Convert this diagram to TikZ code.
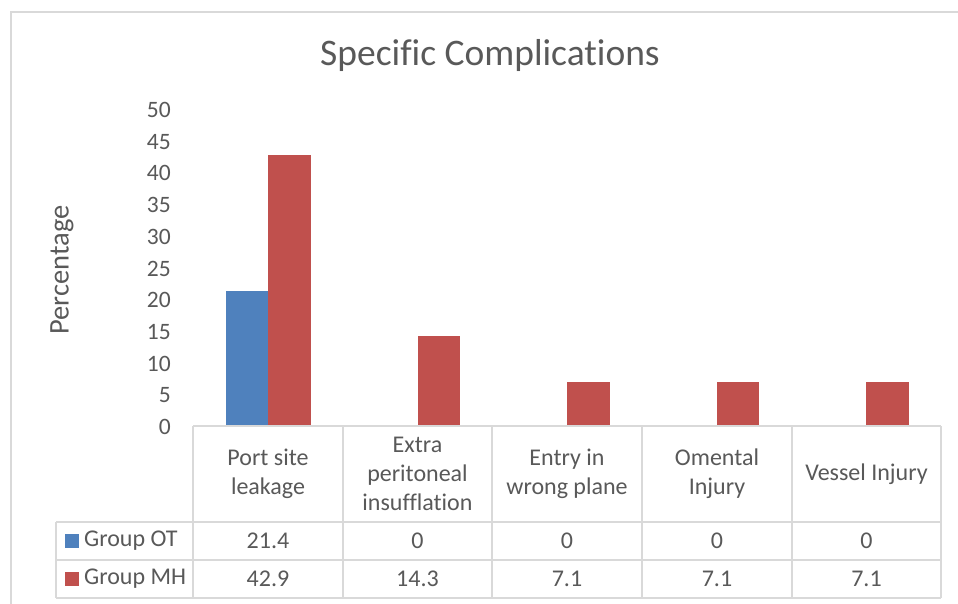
\documentclass[tikz,border=0pt]{standalone}
\usepackage{fontspec}
\setmainfont{Carlito}[Ligatures=NoCommon]
\definecolor{txt}{HTML}{595959}
\definecolor{grid}{HTML}{D9D9D9}
\definecolor{ot}{HTML}{4F81BD}
\definecolor{mh}{HTML}{C0504D}
\begin{document}
\begin{tikzpicture}[x=1pt,y=-1pt,
  lbl/.style={text=txt,font=\fontsize{24}{29}\selectfont,align=center,inner sep=0pt},
  tick/.style={text=txt,font=\fontsize{23.5}{25}\selectfont,anchor=east,inner sep=0pt},
  gline/.style={draw=grid,line width=1.5pt},
  barot/.style={fill=ot,draw=none},
  barmh/.style={fill=mh,draw=none}]
\useasboundingbox (0,0) rectangle (958,603);
\fill[white] (0,0) rectangle (958,603);
% outer chart border
\draw[grid,line width=1.5pt] (11,620) -- (11,12) -- (970,12);
% title
\node[text=txt,font=\fontsize{37.5}{40}\selectfont,inner sep=0pt] (title) at (490,55) {Specific Complications};
% axis title
\node[lbl,rotate=90,font=\fontsize{28.5}{30}\selectfont] (ytitle) at (62,270) {Percentage};
% ticks
\foreach \v in {0,5,...,50}{
  \node[tick] (t\v) at (171,{427-6.34*\v}) {\v};
}
% bars
\foreach \i/\a/\b in {0/21.4/42.9,1/0/14.3,2/0/7.1,3/0/7.1,4/0/7.1}{
  \pgfmathsetmacro\cx{268+149.6*\i}
  \ifdim\a pt>0pt
    \fill[ot] ({\cx-42.5},427) rectangle (\cx,{427-6.34*\a});
  \fi
  \fill[mh] (\cx,427) rectangle ({\cx+42.5},{427-6.34*\b});
}
% table lines
\draw[gline] (193,426) -- (941,426);
\draw[gline] (56,522) -- (941,522);
\draw[gline] (56,560) -- (941,560);
\draw[gline] (56,598) -- (941,598);
\draw[gline] (56,522) -- (56,598);
\foreach \x in {193,343,492,642,792,941}{
  \draw[gline] (\x,426) -- (\x,598);
}
% header labels
\node[lbl] (c1) at (268,474) {Port site\\leakage};
\node[lbl] (c2) at (417.5,474) {Extra\\peritoneal\\insufflation};
\node[lbl] (c3) at (567,474) {Entry in\\wrong plane};
\node[lbl] (c4) at (717,474) {Omental\\Injury};
\node[lbl] (c5) at (866.5,474) {Vessel Injury};
% legend
\fill[ot] (65,534) rectangle (79,548);
\fill[mh] (65,572) rectangle (79,586);
\node[lbl,anchor=west] (lot) at (84,541) {Group OT};
\node[lbl,anchor=west] (lmh) at (84,579) {Group MH};
% values
\foreach \x/\v in {268/21.4,417.5/0,567/0,717/0,866.5/0}{
  \node[lbl] at (\x,541) {\v};
}
\foreach \x/\v in {268/42.9,417.5/14.3,567/7.1,717/7.1,866.5/7.1}{
  \node[lbl] at (\x,579) {\v};
}
\end{tikzpicture}
\end{document}
